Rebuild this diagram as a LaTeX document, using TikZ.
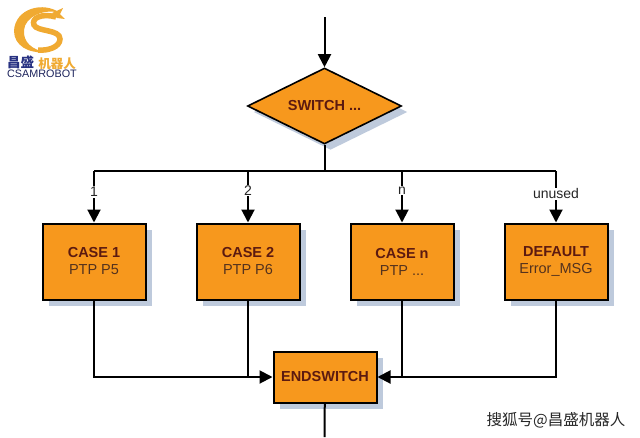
\documentclass[tikz,border=0pt]{standalone}
\usepackage{fontspec}
\setmainfont{Liberation Sans}
\newfontfamily\cjkfont{Noto Sans CJK SC}
\usetikzlibrary{shapes.geometric, arrows.meta, positioning, calc, shadows}
\definecolor{boxfill}{RGB}{247,152,29}
\definecolor{boxshadow}{RGB}{190,202,220}
\definecolor{title}{RGB}{92,26,16}
\definecolor{body}{RGB}{84,50,30}
\definecolor{logogold}{RGB}{240,170,50}
\definecolor{logoblue}{RGB}{40,50,130}

\begin{document}
\begin{tikzpicture}[
          x=1pt, y=1pt,
          flat/.style={general shadow={fill=boxshadow, shadow xshift=6pt, shadow yshift=-6pt}},
          casebox/.style={rectangle, draw=black, line width=2pt, fill=boxfill, flat,
                        minimum width=103pt, minimum height=76pt,
                        font=\fontsize{14.5}{17}\selectfont, text=body, align=center},
          decision/.style={diamond, aspect=2.03, draw=black, line width=1.6pt, fill=boxfill, flat,
                        minimum width=154pt, minimum height=76pt, inner sep=0pt,
                        font=\fontsize{14.5}{17}\selectfont\bfseries, text=title},
          flow/.style={black, line width=2pt},
          arr/.style={flow, -{Triangle[length=13pt, width=13pt]}},
          branch/.style={fill=white, inner sep=1pt, text=black!85, font=\fontsize{14}{16}\selectfont}
        ]
        \useasboundingbox (0,0) rectangle (640,-437);
        % flow chart
        \node[decision] (switch) at (324.5,-106) {SWITCH ...};
        \node[casebox] (case1) at (94,-261.5) {\textcolor{title}{\textbf{CASE 1}}\\PTP P5};
        \node[casebox, right=49pt of case1] (case2) {\textcolor{title}{\textbf{CASE 2}}\\PTP P6};
        \node[casebox, right=49pt of case2] (casen) {\textcolor{title}{\textbf{CASE n}}\\PTP ...};
        \node[casebox, right=49pt of casen] (default) {\textcolor{title}{\textbf{DEFAULT}}\\Error\_MSG};
        \node[casebox, minimum height=51pt, font=\fontsize{14.5}{17}\selectfont\bfseries, text=title] (endswitch) at (325,-377) {ENDSWITCH};
        \coordinate (entry) at (324.5,-17);
        \coordinate (exit) at (324.5,-437);
        \coordinate (bus) at (324.5,-171);
        \draw[arr] (entry) -- (switch);
        \draw[flow] (switch) -- (bus);
        \draw[flow] (case1 |- bus) -- (default |- bus);
        \draw[arr] (case1 |- bus) -- node[branch, pos=0.41] (lbl1) {1} (case1);
        \draw[arr] (case2 |- bus) -- node[branch, pos=0.38] (lbl2) {2} (case2);
        \draw[arr] (casen |- bus) -- node[branch, pos=0.38] (lbln) {n} (casen);
        \draw[arr] (default |- bus) -- node[branch, pos=0.44] (lblu) {unused} (default);
        \draw[arr] (case1) |- (endswitch);
        \draw[flow] (case2) -- (case2 |- endswitch);
        \draw[arr] (default) |- (endswitch);
        \draw[flow] (casen) -- (casen |- endswitch);
        \draw[flow] (endswitch) -- (exit);
        % logo
        \fill[logogold] (60,-13) .. controls (44,-1) and (15,-8) .. (14,-31)
          .. controls (14,-45) and (28,-54) .. (46,-52)
          .. controls (32,-50) and (23,-42) .. (24,-30)
          .. controls (25,-17) and (44,-8) .. (60,-13) -- cycle;
        \draw[logogold, line width=5.5pt] (56,-17) .. controls (42,-13) and (31,-18) .. (34,-25)
          .. controls (37,-32) and (60,-29) .. (60,-39)
          .. controls (60,-47) and (48,-51) .. (38,-50);
        \fill[logogold] (52,-13) -- (63,-8) -- (60,-14) -- (65,-19) -- (57,-18) -- cycle;
        \node[inner sep=0pt, text=logoblue, font=\cjkfont\fontsize{13.5}{14}\selectfont\bfseries] (logocn) at (20.5,-62) {昌盛};
        \node[inner sep=0pt, text=logogold, font=\cjkfont\fontsize{12.5}{13}\selectfont\bfseries] (logorobot) at (57,-63.5) {机器人};
        \node[inner sep=0pt, text=logoblue!70!black, font=\fontsize{10.8}{12}\selectfont] (logoname) at (42,-74) {CSAMROBOT};
        % site mark
        \node[inner sep=0pt, text=black!85, font=\cjkfont\fontsize{15.5}{17}\selectfont] (mark) at (556,-420) {搜狐号@昌盛机器人};
      \end{tikzpicture}
\end{document}
